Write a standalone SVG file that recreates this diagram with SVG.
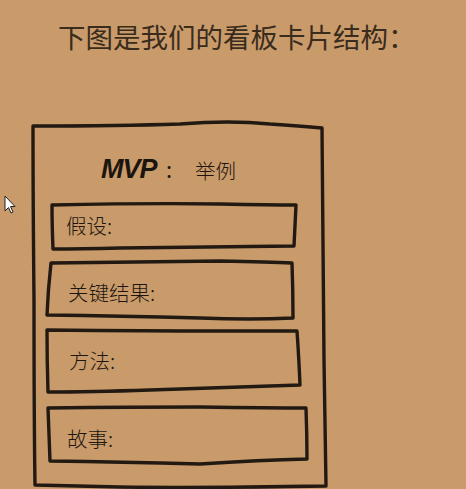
<svg xmlns="http://www.w3.org/2000/svg" width="466" height="489" viewBox="0 0 466 489">
<style>
.sk{fill:none;stroke:#221a12;stroke-width:3.4;stroke-linejoin:round;stroke-linecap:round}
.lbl{font-family:"Noto Sans CJK SC","Noto Sans CJK JP",sans-serif;font-size:20.5px;fill:#1e160e;font-weight:300}
</style>
<rect width="466" height="489" fill="#C99B6B"/>
<text x="58" y="48" font-family="'Noto Sans CJK SC','Noto Sans',sans-serif" font-size="27.5" fill="#3a2c1c">下图是我们的看板卡片结构：</text>
<g id="cursor">
<path d="M5,196 L5,211 L8.5,207.5 L11,213 L13,212 L10.5,206.5 L15,206.5 Z" fill="#fff" stroke="#222" stroke-width="1"/>
</g>
<g id="card">
<path class="sk" d="M33,126 Q120,126 180,124 Q230,120 270,124 Q300,126 322,128 Q323,250 324,360 Q325,440 326,486 Q200,488 120,487 Q70,486 35,485 Q34,420 34,300 Q33,200 33,126 Z"/>
<text x="101" y="178" font-family="'Liberation Sans',sans-serif" font-style="italic" font-weight="bold" font-size="27" fill="#1c150e" letter-spacing="-1">MVP</text>
<text x="166" y="178" font-family="'Noto Sans CJK SC',sans-serif" font-size="22" fill="#1c150e">:</text>
<text x="195" y="179" class="lbl" font-size="24px">举例</text>
</g>
<g id="box-hypothesis">
<path class="sk" d="M52,205 Q150,203 220,204 Q270,205 296,205 Q295,225 294,246 Q200,247 120,248 Q80,249 53,249 Q52,225 52,205 Z"/>
<text x="66" y="234" class="lbl">假设:</text>
</g>
<g id="box-keyresult">
<path class="sk" d="M51,263 Q150,262 220,261 Q270,262 292,263 Q293,290 293,318 Q250,320 200,318 Q120,316 47,315 Q48,290 51,263 Z"/>
<text x="68" y="301" class="lbl">关键结果:</text>
</g>
<g id="box-method">
<path class="sk" d="M47,330 Q150,331 220,331 Q270,331 297,331 Q299,360 300,385 Q220,388 150,390 Q90,392 48,392 Q47,360 47,330 Z"/>
<text x="69" y="369" class="lbl">方法:</text>
</g>
<g id="box-story">
<path class="sk" d="M48,408 Q130,407 200,407 Q270,408 306,408 Q307,435 307,459 Q260,460 200,464 Q120,462 50,461 Q49,435 48,408 Z"/>
<text x="67" y="447" class="lbl">故事:</text>
</g>
</svg>
